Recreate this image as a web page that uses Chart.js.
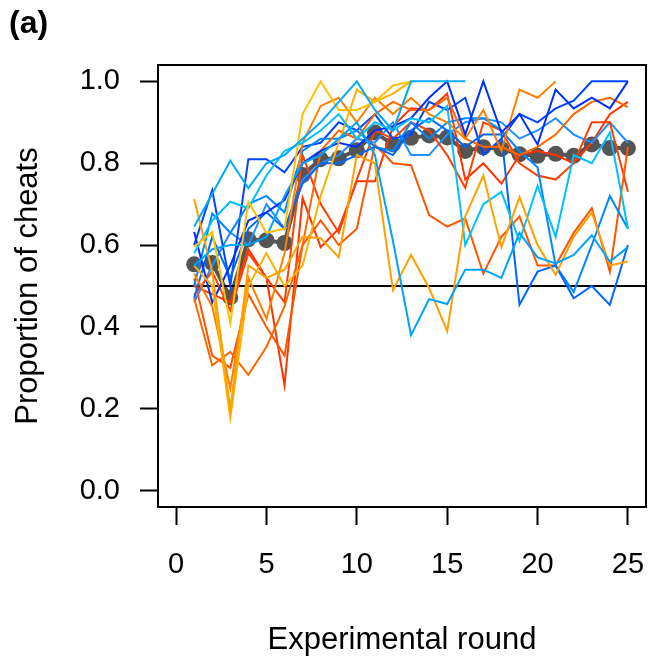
<!DOCTYPE html>
<html><head><meta charset="utf-8">
<script src="https://cdn.jsdelivr.net/npm/chart.js@4.4.1/dist/chart.umd.min.js"></script>
<style>html,body{margin:0;padding:0;background:#fff;}canvas{display:block;}</style>
</head><body>
<canvas id="c" width="654" height="660"></canvas>
<script>
const rounds = [1,2,3,4,5,6,7,8,9,10,11,12,13,14,15,16,17,18,19,20,21,22,23,24,25];
const xTicks = [0,5,10,15,20,25];
const yTicks = [0,0.2,0.4,0.6,0.8,1.0];
const refLine = 0.5;
const panelLabel = '(a)';
const xTitle = 'Experimental round';
const yTitle = 'Proportion of cheats';

const meanValues = [0.553,0.556,0.472,0.614,0.612,0.605,0.771,0.810,0.812,0.832,0.875,0.846,0.862,0.868,0.863,0.830,0.839,0.835,0.822,0.818,0.823,0.818,0.846,0.837,0.837];

const groupB1 = [0.645,0.725,0.806,0.739,0.80,0.82,0.86,0.90,0.95,1.00,0.93,0.88,1.00,1.00,1.00,1.00];
const groupB2 = [0.55,0.59,0.60,0.60,0.62,0.72,0.80,0.82,0.86,0.90,0.82,0.61,0.38,0.468,0.456,0.54,0.54,0.52,0.63,0.57,0.555,0.576,0.624,0.56,0.595];
const groupB3 = [0.58,0.66,0.706,0.69,0.77,0.83,0.85,0.88,0.92,0.86,0.90,0.88,0.91,0.90,0.94,0.60,0.70,0.73,0.61,0.745,0.62,0.82,0.80,0.875,0.64];
const groupB4 = [0.632,0.46,0.55,0.66,0.68,0.71,0.80,0.83,0.85,0.84,0.88,0.89,0.91,0.96,1.00,0.87,1.00,0.875,0.92,0.846,0.98,0.934,0.96,0.934,1.00];
const groupB5 = [0.47,0.62,0.52,0.64,0.68,0.64,0.75,0.80,0.80,0.82,0.84,0.82,0.88,0.91,0.88,0.84,0.87,0.87,0.454,0.535,0.55,0.47,0.50,0.454,0.60];
const groupB6 = [0.50,0.677,0.63,0.70,0.72,0.68,0.83,0.86,0.86,0.88,0.84,0.83,0.90,0.86,0.90,0.91,0.91,0.88,0.83,0.79,0.55,0.485,0.60,0.72,0.64];
const groupB7 = [0.60,0.734,0.50,0.81,0.81,0.778,0.84,0.85,0.90,0.88,0.92,0.86,0.87,0.95,0.93,0.96,0.82,0.86,0.92,0.90,0.934,0.953,1.00,1.00,1.00];
const groupB8 = [0.46,0.55,0.63,0.60,0.70,0.64,0.76,0.80,0.82,0.86,0.85,0.90,0.82,0.82,0.87,0.90,0.91,0.90,0.86,0.88,0.91,0.87,0.85,0.90,0.85];

const groupO1 = [0.596,0.632,0.409,0.706,0.63,0.64,0.92,1.00,0.93,0.93,0.95,0.99,1.00];
const groupO2 = [0.712,0.535,0.20,0.55,0.52,0.54,0.62,0.617,0.57,0.82,0.80,0.49,0.576,0.495,0.39,0.67,0.77,0.595,0.717,0.60,0.527,0.62,0.68,0.55,0.56];
const groupO3 = [0.55,0.50,0.178,0.50,0.58,0.50,0.55,0.72,0.85,0.98,0.95,0.97,1.00];
const groupO4 = [0.53,0.45,0.25,0.52,0.42,0.58,0.85,0.94,0.96,0.90,0.96,0.92,0.96,0.92,0.90,0.86,0.93,0.83,0.98,0.96,1.00];
const groupO5 = [0.47,0.306,0.339,0.283,0.351,0.45,0.60,0.83,0.88,0.86,0.92,0.95,0.93,0.93,0.96,0.86,0.84,0.84,0.82,0.84,0.87,0.92,0.95,0.96,0.937];
const groupO6 = [0.519,0.33,0.30,0.48,0.40,0.33,0.60,0.66,0.60,0.64,0.845,0.80,0.795,0.673,0.645,0.665,0.53,0.62,0.67,0.55,0.55,0.63,0.69,0.535,0.84];
const groupO7 = [0.478,0.535,0.44,0.58,0.52,0.46,0.82,0.70,0.63,0.76,0.88,0.86,0.90,0.88,0.82,0.74,0.90,0.88,0.80,0.77,0.76,0.80,0.90,0.90,0.73];
const groupO8 = [0.50,0.48,0.46,0.59,0.52,0.258,0.715,0.595,0.64,0.756,0.756,0.89,0.934,0.93,0.97,0.76,0.80,0.75,0.82,0.83,0.82,0.80,0.85,0.92,0.95];

const groupSeries = [groupB1,groupO1,groupB2,groupO2,groupB3,groupO3,groupB4,groupO4,groupB5,groupO5,groupB6,groupO6,groupB7,groupO7,groupB8,groupO8];
const groupColors = ['#00AAFF','#FFC000','#00A2FF','#FFA000','#00C0FF','#FFB000','#0030FF','#FF8000','#0066FF','#FF6600','#0088FF','#FF5500','#0045FF','#FF4000','#1E90FF','#FF3300'];

const FONT = "'Liberation Sans', Arial, sans-serif";
const toPts = vals => vals.map((v, i) => ({x: rounds[i], y: v}));

const datasets = groupSeries.map((g, i) => ({
  data: toPts(g), borderColor: groupColors[i], borderWidth: 2, pointRadius: 0, fill: false, tension: 0
}));
datasets.push({data: [{x: -1, y: refLine}, {x: 26, y: refLine}], borderColor: '#000', borderWidth: 2, pointRadius: 0, fill: false});
datasets.push({data: toPts(meanValues), borderColor: '#555555', backgroundColor: '#555555', pointBackgroundColor: '#555555', pointBorderColor: '#555555', borderWidth: 4, pointRadius: 8, pointBorderWidth: 0, fill: false});

const framePlugin = {
  id: 'frame',
  afterDraw(chart) {
    const {ctx, chartArea: a} = chart;
    ctx.save();
    ctx.strokeStyle = '#000'; ctx.lineWidth = 2;
    ctx.strokeRect(a.left, a.top, a.right - a.left, a.bottom - a.top);
    ctx.fillStyle = '#000';
    ctx.font = 'bold 32px ' + FONT;
    ctx.textBaseline = 'alphabetic'; ctx.textAlign = 'left';
    ctx.fillText(panelLabel, 9, 33);
    ctx.restore();
  }
};

new Chart(document.getElementById('c'), {
  type: 'line',
  data: {datasets},
  plugins: [framePlugin],
  options: {
    responsive: false, animation: false, devicePixelRatio: 1,
    layout: {padding: {top: 65, right: 2, left: 0, bottom: 0}},
    plugins: {legend: {display: false}, tooltip: {enabled: false}, title: {display: false}},
    scales: {
      x: {
        type: 'linear', min: -1, max: 26,
        afterBuildTicks: s => { s.ticks = xTicks.map(v => ({value: v})); },
        afterFit: s => { s.height = 153; s.paddingLeft = 0; s.paddingRight = 0; },
        grid: {drawOnChartArea: false, drawTicks: true, tickLength: 18, tickColor: '#000', tickWidth: 2},
        border: {display: false},
        ticks: {font: {family: FONT, size: 29, lineHeight: 1}, color: '#000', padding: 25, maxRotation: 0, autoSkip: false},
        title: {display: true, text: xTitle, color: '#000', font: {family: FONT, size: 31, lineHeight: 1}, padding: {top: 0, bottom: 4}}
      },
      y: {
        min: -0.04, max: 1.04,
        afterBuildTicks: s => { s.ticks = yTicks.map(v => ({value: v})); },
        afterFit: s => { s.width = 158; s.paddingTop = 0; s.paddingBottom = 0; },
        grid: {drawOnChartArea: false, drawTicks: true, tickLength: 18, tickColor: '#000', tickWidth: 2},
        border: {display: false},
        ticks: {font: {family: FONT, size: 29, lineHeight: 1}, color: '#000', padding: 20, autoSkip: false, callback: v => Number(v).toFixed(1)},
        title: {display: true, text: yTitle, color: '#000', font: {family: FONT, size: 31, lineHeight: 1}, padding: {top: 13, bottom: 0}}
      }
    }
  }
});
</script>
</body></html>
